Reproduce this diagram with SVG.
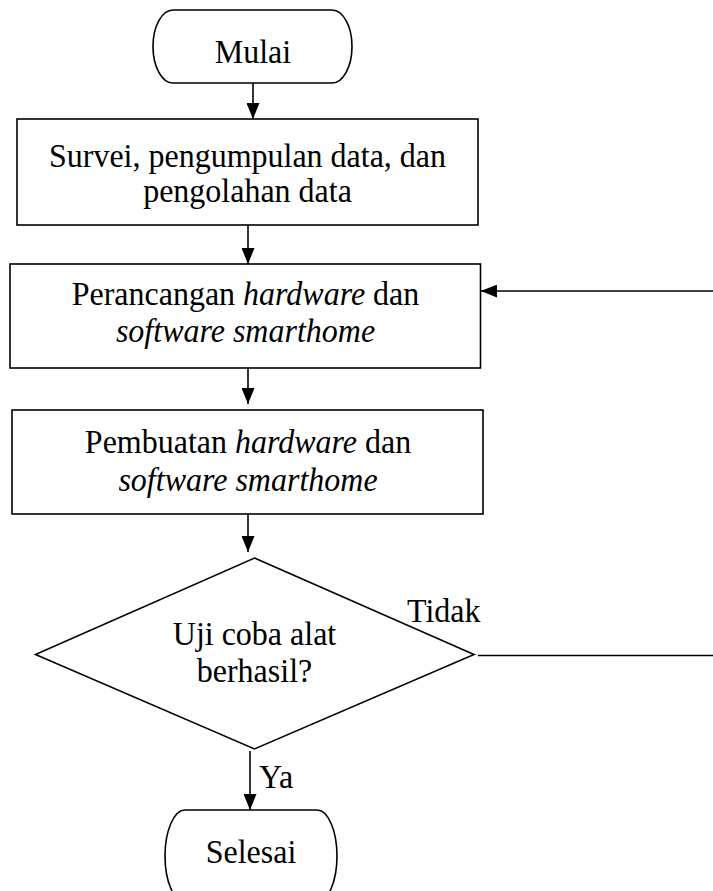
<svg xmlns="http://www.w3.org/2000/svg" width="713" height="891" viewBox="0 0 713 891">
  <style>
    .shape { fill: #ffffff; stroke: #000000; stroke-width: 1.6; }
    .conn { fill: none; stroke: #000000; stroke-width: 1.6; }
    text { font-family: "Liberation Serif", "Times New Roman", serif; font-size: 32px; fill: #000000; }
    .c { text-anchor: middle; }
    .i { font-style: italic; }
  </style>
  <defs>
    <marker id="arrow" viewBox="0 0 16 13" refX="16" refY="6.5" markerWidth="16" markerHeight="13" markerUnits="userSpaceOnUse" orient="auto">
      <path d="M0,0 L16,6.5 L0,13 z" fill="#000000"/>
    </marker>
  </defs>
  <rect width="713" height="891" fill="#ffffff"/>

  <!-- start terminator -->
  <g id="mulai">
    <rect class="shape" x="153" y="10" width="199" height="73" rx="20" ry="36.5"/>
    <text class="c" transform="translate(253,63) scale(1,1.07)">Mulai</text>
  </g>

  <!-- survey / data collection -->
  <g id="survei">
    <rect class="shape" x="17" y="119" width="461" height="106"/>
    <text class="c" transform="translate(247.5,167) scale(1,1.07)">Survei, pengumpulan data, dan</text>
    <text class="c" transform="translate(247.5,202) scale(1,1.07)">pengolahan data</text>
  </g>

  <!-- design -->
  <g id="perancangan">
    <rect class="shape" x="10" y="264" width="470.5" height="104"/>
    <text class="c" transform="translate(245.5,305) scale(1,1.07)">Perancangan <tspan class="i">hardware</tspan> dan</text>
    <text class="c i" transform="translate(245.5,342) scale(1,1.07)">software smarthome</text>
  </g>

  <!-- build -->
  <g id="pembuatan">
    <rect class="shape" x="12" y="410" width="471" height="104"/>
    <text class="c" transform="translate(248,453) scale(1,1.07)">Pembuatan <tspan class="i">hardware</tspan> dan</text>
    <text class="c i" transform="translate(248,491) scale(1,1.07)">software smarthome</text>
  </g>

  <!-- decision -->
  <g id="uji">
    <polygon class="shape" points="254.5,558 474,654.5 254.5,749 35.5,654.5"/>
    <text class="c" transform="translate(254.5,645) scale(1,1.07)">Uji coba alat</text>
    <text class="c" transform="translate(254.5,682) scale(1,1.07)">berhasil?</text>
  </g>

  <!-- end terminator -->
  <g id="selesai">
    <rect class="shape" x="165" y="810" width="172" height="92" rx="20" ry="46"/>
    <text class="c" transform="translate(251,863) scale(1,1.07)">Selesai</text>
  </g>

  <!-- connectors -->
  <g id="connectors">
    <line class="conn" x1="253" y1="83" x2="253" y2="119" marker-end="url(#arrow)"/>
    <line class="conn" x1="248" y1="225" x2="248" y2="264" marker-end="url(#arrow)"/>
    <line class="conn" x1="248" y1="368" x2="248" y2="404" marker-end="url(#arrow)"/>
    <line class="conn" x1="248" y1="514" x2="248" y2="552" marker-end="url(#arrow)"/>
    <line class="conn" x1="250" y1="751" x2="250" y2="810" marker-end="url(#arrow)"/>
    <line class="conn" x1="478" y1="655.5" x2="713" y2="655.5"/>
    <line class="conn" x1="713" y1="291" x2="481" y2="291" marker-end="url(#arrow)"/>
    <text transform="translate(407,622) scale(1,1.07)">Tidak</text>
    <text transform="translate(259,788) scale(1,1.07)">Ya</text>
  </g>
</svg>
